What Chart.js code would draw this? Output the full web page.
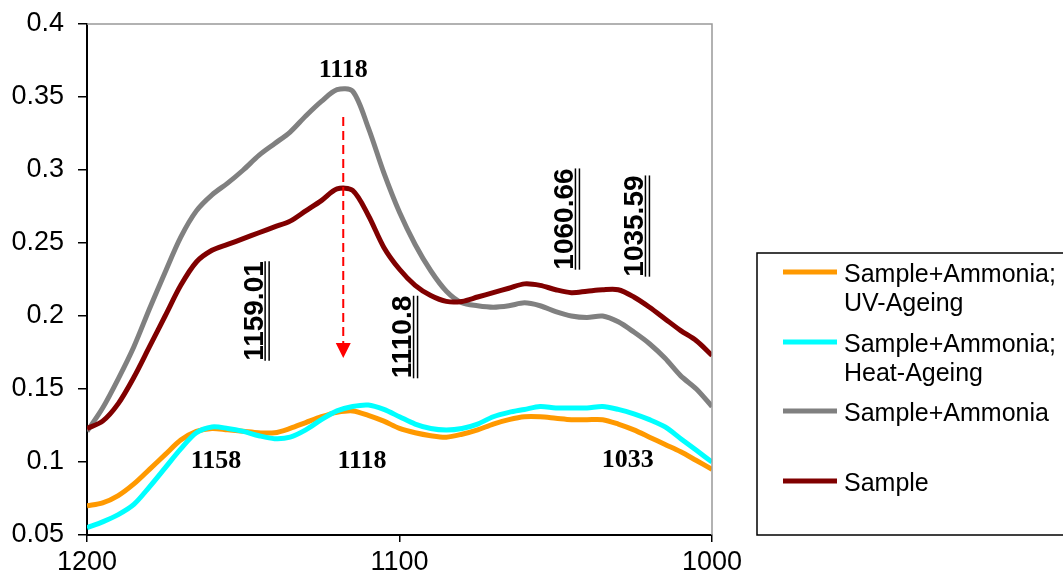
<!DOCTYPE html>
<html lang="en">
<head>
<meta charset="utf-8">
<title>FTIR spectra</title>
<script src="https://cdn.jsdelivr.net/npm/chart.js@4"></script>
<style>
  html, body { margin: 0; padding: 0; background: #fff; }
  #wrap { width: 1063px; height: 587px; }
</style>
</head>
<body>
<div id="wrap"><canvas id="myChart" width="1063" height="587"></canvas></div>
<script>
// wavenumber grid (cm-1), every 5 units
const wavenumbers = [1200, 1195, 1190, 1185, 1180, 1175, 1170, 1165, 1160, 1155, 1150,
  1145, 1140, 1135, 1130, 1125, 1120, 1115, 1110, 1105, 1100,
  1095, 1090, 1085, 1080, 1075, 1070, 1065, 1060, 1055, 1050,
  1045, 1040, 1035, 1030, 1025, 1020, 1015, 1010, 1005, 1000];

const uvAgeing = [0.070, 0.072, 0.077, 0.085, 0.095, 0.105, 0.115, 0.121, 0.123, 0.122, 0.121,
  0.120, 0.120, 0.123, 0.127, 0.131, 0.134, 0.135, 0.132, 0.128, 0.123,
  0.120, 0.118, 0.117, 0.119, 0.122, 0.126, 0.129, 0.131, 0.131, 0.130,
  0.129, 0.129, 0.129, 0.126, 0.122, 0.117, 0.112, 0.107, 0.101, 0.095];

const heatAgeing = [0.055, 0.059, 0.064, 0.071, 0.083, 0.096, 0.109, 0.120, 0.124, 0.123, 0.121,
  0.118, 0.116, 0.117, 0.122, 0.129, 0.135, 0.138, 0.139, 0.136, 0.131,
  0.126, 0.123, 0.122, 0.123, 0.126, 0.131, 0.134, 0.136, 0.138, 0.137,
  0.137, 0.137, 0.138, 0.136, 0.133, 0.129, 0.124, 0.116, 0.108, 0.100];

const sampleAmmonia = [0.121, 0.137, 0.157, 0.179, 0.205, 0.230, 0.254, 0.272, 0.283, 0.291, 0.300,
  0.310, 0.318, 0.326, 0.337, 0.347, 0.355, 0.354, 0.329, 0.298, 0.271,
  0.249, 0.231, 0.217, 0.209, 0.207, 0.206, 0.207, 0.209, 0.207, 0.203,
  0.200, 0.199, 0.200, 0.196, 0.189, 0.181, 0.171, 0.159, 0.150, 0.138];

const sample = [0.123, 0.128, 0.140, 0.158, 0.179, 0.200, 0.221, 0.237, 0.245, 0.249, 0.253,
  0.257, 0.261, 0.265, 0.272, 0.279, 0.287, 0.286, 0.269, 0.247, 0.232,
  0.221, 0.214, 0.210, 0.210, 0.213, 0.216, 0.219, 0.222, 0.221, 0.218,
  0.216, 0.217, 0.218, 0.218, 0.213, 0.206, 0.198, 0.190, 0.183, 0.173];

const seriesNames = [['Sample+Ammonia;', 'UV-Ageing'], ['Sample+Ammonia;', 'Heat-Ageing'], ['Sample+Ammonia'], ['Sample']];
const seriesColors = ['#ff9900', '#00ffff', '#808080', '#800000'];

const yTickLabels = ['0.05', '0.1', '0.15', '0.2', '0.25', '0.3', '0.35', '0.4'];
const xTickLabels = ['1000', '1100', '1200'];

// peak annotations: [text, wavenumber, absorbance]
const peakLabels = [['1118', 1118, 0.3685], ['1158', 1158.7, 0.1007], ['1118', 1112, 0.1007], ['1033', 1027, 0.1014]];
const bandLabels = [['1159.01', 1147, 0.2034], ['1110.8', 1099.5, 0.1856], ['1060.66', 1047.7, 0.2664], ['1035.59', 1025.3, 0.2616]];
const arrowWavenumber = 1118;
const arrowFrom = 0.3363;
const arrowTo = 0.1712;

const SANS = '"Liberation Sans", Arial, sans-serif';
const SERIF = '"Liberation Serif", "Times New Roman", serif';

function pts(values) {
  return wavenumbers.map((w, i) => ({ x: w, y: values[i] }));
}

const allSeries = [uvAgeing, heatAgeing, sampleAmmonia, sample];

const annotations = {
  id: 'annotations',
  afterDatasetsDraw(chart) {
    const { ctx, scales: { x, y } } = chart;
    ctx.save();
    // dashed red arrow
    const ax = x.getPixelForValue(arrowWavenumber);
    const y0 = y.getPixelForValue(arrowFrom);
    const y1 = y.getPixelForValue(arrowTo);
    ctx.strokeStyle = '#ff0000';
    ctx.lineWidth = 2;
    ctx.setLineDash([9, 5]);
    ctx.beginPath();
    ctx.moveTo(ax, y0);
    ctx.lineTo(ax, y1 - 14);
    ctx.stroke();
    ctx.setLineDash([]);
    ctx.fillStyle = '#ff0000';
    ctx.beginPath();
    ctx.moveTo(ax - 7.5, y1 - 15);
    ctx.lineTo(ax + 7.5, y1 - 15);
    ctx.lineTo(ax, y1);
    ctx.closePath();
    ctx.fill();

    // bold serif peak labels
    ctx.fillStyle = '#000';
    ctx.font = 'bold 26px ' + SERIF;
    ctx.textAlign = 'center';
    ctx.textBaseline = 'middle';
    peakLabels.forEach(([t, w, v]) => {
      ctx.fillText(t, x.getPixelForValue(w), y.getPixelForValue(v));
    });

    // rotated, double underlined band labels
    ctx.font = 'bold 28px ' + SANS;
    ctx.textBaseline = 'alphabetic';
    ctx.strokeStyle = '#000';
    ctx.lineWidth = 1.5;
    bandLabels.forEach(([t, w, v]) => {
      ctx.save();
      ctx.translate(x.getPixelForValue(w), y.getPixelForValue(v));
      ctx.rotate(-Math.PI / 2);
      ctx.fillText(t, 0, 10);
      const tw = ctx.measureText(t).width;
      [12.5, 16.5].forEach(off => {
        ctx.beginPath();
        ctx.moveTo(-tw / 2, off);
        ctx.lineTo(tw / 2, off);
        ctx.stroke();
      });
      ctx.restore();
    });

    // grey top and right frame
    const a = chart.chartArea;
    ctx.strokeStyle = '#999';
    ctx.lineWidth = 1.5;
    ctx.beginPath();
    ctx.moveTo(a.left, a.top);
    ctx.lineTo(a.right, a.top);
    ctx.lineTo(a.right, a.bottom);
    ctx.stroke();
    ctx.restore();
  }
};

const legendBox = {
  id: 'legendBox',
  afterDraw(chart) {
    const ctx = chart.ctx;
    ctx.save();
    ctx.strokeStyle = '#000';
    ctx.lineWidth = 1.5;
    ctx.strokeRect(757, 253, 320, 282);
    const rows = [272, 342, 411, 481];
    ctx.font = '25px ' + SANS;
    ctx.textAlign = 'left';
    ctx.textBaseline = 'middle';
    ctx.fillStyle = '#000';
    seriesNames.forEach((name, i) => {
      ctx.strokeStyle = seriesColors[i];
      ctx.lineWidth = 5;
      ctx.beginPath();
      ctx.moveTo(783, rows[i]);
      ctx.lineTo(837, rows[i]);
      ctx.stroke();
      name.forEach((line, j) => {
        ctx.fillText(line, 844, rows[i] + 3 + j * 29);
      });
    });
    ctx.restore();
  }
};

function initializeChart() {
  const ctx = document.getElementById('myChart').getContext('2d');
  // drawn in reverse so that Sample and Heat-Ageing sit on top
  const order = [3, 2, 1, 0];
  new Chart(ctx, {
    type: 'line',
    data: {
      datasets: order.map(i => ({
        label: seriesNames[i].join(' '),
        data: pts(allSeries[i]),
        borderColor: seriesColors[i],
        backgroundColor: seriesColors[i],
        borderWidth: 5,
        pointRadius: 0,
        tension: 0.3,
        borderJoinStyle: 'round',
        fill: false
      }))
    },
    options: {
      responsive: false,
      animation: false,
      layout: { padding: { top: 24, right: 351, left: 0, bottom: 0 } },
      plugins: { legend: { display: false }, tooltip: { enabled: false } },
      scales: {
        x: {
          type: 'linear',
          reverse: true,
          min: 1000,
          max: 1200,
          afterFit(s) { s.height = 52; },
          afterBuildTicks(s) { s.ticks = xTickLabels.map(v => ({ value: Number(v) })); },
          ticks: {
            color: '#000',
            font: { family: SANS, size: 27 },
            padding: 4,
            maxRotation: 0,
            callback: v => xTickLabels[xTickLabels.indexOf(String(v))]
          },
          grid: { drawOnChartArea: false, drawTicks: true, tickLength: 7, color: '#000', lineWidth: 1.5 },
          border: { color: '#000', width: 2 }
        },
        y: {
          min: 0.05,
          max: 0.4,
          afterFit(s) { s.width = 87; s.paddingTop = 0; s.paddingBottom = 0; },
          afterBuildTicks(s) { s.ticks = yTickLabels.map(v => ({ value: Number(v) })); },
          ticks: {
            color: '#000',
            font: { family: SANS, size: 27 },
            padding: 14,
            callback: (v, i) => yTickLabels[i]
          },
          grid: { drawOnChartArea: false, drawTicks: true, tickLength: 9, color: '#000', lineWidth: 1.5 },
          border: { color: '#000', width: 2 }
        }
      }
    },
    plugins: [annotations, legendBox]
  });
}

document.addEventListener('DOMContentLoaded', initializeChart);
</script>
</body>
</html>
